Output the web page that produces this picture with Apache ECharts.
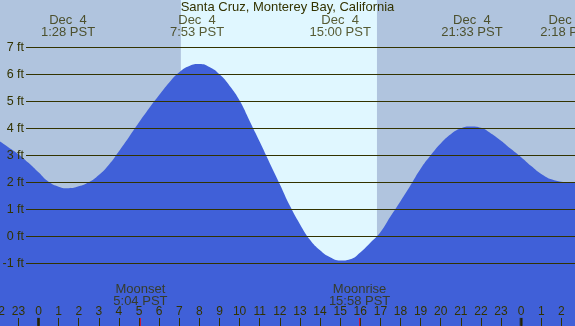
<!DOCTYPE html>
<html>
<head>
<meta charset="utf-8">
<script src="https://cdn.jsdelivr.net/npm/echarts@6/dist/echarts.min.js"></script>
<style>
  html, body { margin: 0; padding: 0; }
  #main { width: 575px; height: 326px; }
</style>
</head>
<body>
<div id="main"></div>
<script>
// tide heights (ft) every half hour, hour 0 = midnight Dec 4
const tideHours = [-2, -1.5, -1, -0.5, 0, 0.5, 1, 1.5, 2, 2.5, 3, 3.5, 4, 4.5, 5, 5.5, 6, 6.5, 7, 7.5,
  8, 8.5, 9, 9.5, 10, 10.5, 11, 11.5, 12, 12.5, 13, 13.5, 14, 14.5, 15, 15.5, 16, 16.5, 17, 17.5,
  18, 18.5, 19, 19.5, 20, 20.5, 21, 21.5, 22, 22.5, 23, 23.5, 24, 24.5, 25, 25.5, 26, 26.5, 27];
const tideFeet = [3.55, 3.30, 3.04, 2.72, 2.37, 2.02, 1.84, 1.78, 1.85, 2.0, 2.27, 2.65, 3.15, 3.68, 4.22, 4.74, 5.23, 5.7, 6.08, 6.31,
  6.38, 6.27, 6.0, 5.58, 5.03, 4.27, 3.5, 2.71, 1.93, 1.13, 0.45, -0.13, -0.52, -0.78, -0.9, -0.85, -0.6, -0.24, 0.15, 0.73,
  1.3, 1.89, 2.5, 3.0, 3.44, 3.78, 4.0, 4.07, 4.02, 3.81, 3.54, 3.23, 2.93, 2.6, 2.31, 2.11, 2.02, 1.99, 2.0];

// high / low tide labels along the top
const extremeHours = [1.467, 7.883, 15.0, 21.55, 26.3];
const extremeDates = ['Dec  4', 'Dec  4', 'Dec  4', 'Dec  4', 'Dec  5'];
const extremeTimes = ['1:28 PST', '7:53 PST', '15:00 PST', '21:33 PST', '2:18 PST'];

// sunrise / sunset
const dayStart = 7.08;
const dayEnd = 16.83;

// moon events
const moonHours = [5.067, 15.967];
const moonNames = ['Moonset', 'Moonrise'];
const moonTimes = ['5:04 PST', '15:58 PST'];

const midnights = [0, 24];
const feetLines = [7, 6, 5, 4, 3, 2, 1, 0, -1];

const textColor = '#333300';
const font = 'Liberation Sans';

const chart = echarts.init(document.getElementById('main'), null, { renderer: 'canvas' });

// y positions (in ft) for the text rows
const topLabelY = 7.76;
const moonLabelY = -2.19;
const tickY = -3.17;

var hLines = feetLines.map(function (v) {
  return [{ name: v + ' ft', coord: [-0.62, v] }, { coord: [27, v] }];
});

var option = {
  animation: false,
  backgroundColor: '#b0c4de',
  title: {
    text: 'Santa Cruz, Monterey Bay, California',
    left: 'center',
    top: 1,
    padding: 0,
    textStyle: { fontSize: 13, fontWeight: 'normal', color: textColor, fontFamily: font }
  },
  grid: {
    left: -1.72,
    right: -6.48,
    top: 0,
    bottom: 0,
    containLabel: false,
    outerBoundsMode: 'none'
  },
  xAxis: {
    type: 'value',
    min: -2,
    max: 27,
    interval: 1,
    z: 10,
    axisLine: { show: false, onZero: false },
    splitLine: { show: false },
    axisTick: { inside: true, length: 8, lineStyle: { color: textColor } },
    axisLabel: {
      inside: true,
      interval: 0,
      margin: 8,
      color: textColor,
      fontSize: 12,
      fontFamily: font,
      formatter: function (v) { return String(((v % 24) + 24) % 24); }
    }
  },
  yAxis: {
    type: 'value',
    min: -3.322,
    max: 8.752,
    show: false,
    splitLine: { show: false }
  },
  series: [
    {
      // daylight band
      type: 'line',
      data: [],
      z: 1,
      silent: true,
      markArea: {
        silent: true,
        itemStyle: { color: '#e0f7ff' },
        data: [[{ xAxis: dayStart }, { xAxis: dayEnd }]]
      }
    },
    {
      name: 'tide',
      type: 'line',
      z: 2,
      smooth: 0.5,
      symbol: 'none',
      lineStyle: { width: 0 },
      areaStyle: { color: '#4060d8', opacity: 1, origin: 'start' },
      data: tideHours.map(function (h, i) { return [h, tideFeet[i]]; })
    },
    {
      // foot lines
      type: 'line',
      data: [],
      z: 3,
      markLine: {
        silent: true,
        symbol: ['none', 'none'],
        lineStyle: { color: textColor, width: 1, type: 'solid' },
        label: {
          position: 'start',
          distance: 2,
          formatter: '{b}',
          color: textColor,
          fontSize: 12.5,
          fontFamily: font
        },
        data: hLines
      }
    },
    {
      // midnight ticks
      type: 'scatter',
      z: 11,
      symbol: 'rect',
      symbolSize: [3, 8],
      itemStyle: { color: '#222200' },
      data: midnights.map(function (h) { return [h, tickY]; })
    },
    {
      // moon ticks
      type: 'scatter',
      z: 11,
      symbol: 'rect',
      symbolSize: [1, 8],
      itemStyle: { color: '#ff0000' },
      data: moonHours.map(function (h) { return [h, tickY]; })
    },
    {
      // tide time labels
      type: 'scatter',
      z: 5,
      symbolSize: 0,
      label: {
        show: true,
        position: 'inside',
        color: textColor,
        fontSize: 13,
        lineHeight: 12,
        fontFamily: font,
        formatter: function (p) {
          return extremeDates[p.dataIndex] + '\n' + extremeTimes[p.dataIndex];
        }
      },
      data: extremeHours.map(function (h) { return [h, topLabelY]; })
    },
    {
      // moon labels
      type: 'scatter',
      z: 5,
      symbolSize: 0,
      label: {
        show: true,
        position: 'inside',
        color: textColor,
        fontSize: 13,
        lineHeight: 12,
        fontFamily: font,
        formatter: function (p) {
          return moonNames[p.dataIndex] + '\n' + moonTimes[p.dataIndex];
        }
      },
      data: moonHours.map(function (h) { return [h, moonLabelY]; })
    }
  ]
};

chart.setOption(option);
</script>
</body>
</html>
